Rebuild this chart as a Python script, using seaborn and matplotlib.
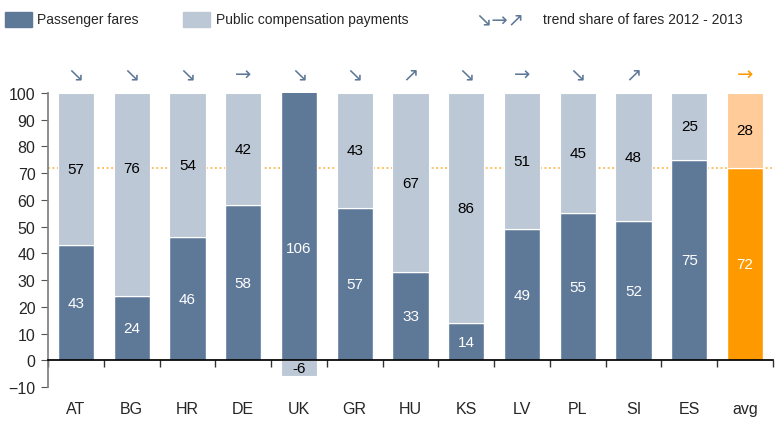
import matplotlib
matplotlib.use("Agg")
import matplotlib.pyplot as plt
import seaborn as sns
import numpy as np
import pandas as pd
from matplotlib.patches import Rectangle

sns.set_theme(style="white")
plt.rcParams['font.family'] = ['Liberation Sans', 'DejaVu Sans']

categories = ["AT", "BG", "HR", "DE", "UK", "GR", "HU", "KS", "LV", "PL", "SI", "ES", "avg"]
fares = [43, 24, 46, 58, 106, 57, 33, 14, 49, 55, 52, 75, 72]
compensation = [57, 76, 54, 42, -6, 43, 67, 86, 51, 45, 48, 25, 28]
trends = ["down", "down", "down", "flat", "down", "down", "up", "down", "flat", "down", "up", "", "flat"]
avg_line = 72

DARK = "#5E7898"
LIGHT = "#BDC8D6"
ORANGE = "#FF9900"
LORANGE = "#FFCC99"
arrow_char = {"down": "\u2198", "flat": "\u2192", "up": "\u2197", "": ""}

n = len(categories)
dark_colors = [DARK] * (n - 1) + [ORANGE]
light_colors = [LIGHT] * (n - 1) + [LORANGE]

df = pd.DataFrame({"cat": categories, "fares": fares, "comp": compensation})
comp_bottom = [f if c >= 0 else 0 for f, c in zip(fares, compensation)]

fig = plt.figure(figsize=(7.83, 4.27), dpi=100)
ax = fig.add_axes([48 / 783, 1 - 388 / 427, (773 - 48) / 783, (388 - 94) / 427])

x = np.arange(n)
w = 0.65
ax.axhline(avg_line, color="#FFB84D", linestyle=(0, (1, 1.5)), lw=1.3, zorder=0)
ax.bar(x, df["fares"], width=w, color=dark_colors, zorder=2)
ax.bar(x, df["comp"], bottom=comp_bottom, width=w, color=light_colors, zorder=2,
       edgecolor="white", linewidth=0.8)

for i in range(n):
    f, c = fares[i], compensation[i]
    fy = f / 2 if f <= 100 else 42
    ax.text(i, fy, str(f), ha="center", va="center", color="white", fontsize=11, zorder=3)
    if c >= 0:
        cy = f + c / 2 if categories[i] != "BG" else 72
    else:
        cy = c / 2
    ax.text(i, cy, str(c), ha="center", va="center", color="black", fontsize=11, zorder=3)
    col = ORANGE if i == n - 1 else DARK
    ax.text(i, 107, arrow_char[trends[i]], ha="center", va="center", color=col,
            fontsize=14, family=["DejaVu Sans"], clip_on=False)

ax.set_xlim(-0.5, n - 0.5)
ax.set_ylim(-10, 100)
ax.set_yticks(np.arange(-10, 101, 10))
ax.tick_params(axis="y", which="major", left=True, length=5, width=0.8, color="#555555",
               labelsize=11.5, pad=4)
ax.spines["top"].set_visible(False)
ax.spines["right"].set_visible(False)
ax.spines["left"].set_color("#808080")
ax.spines["bottom"].set_position(("data", 0))
ax.spines["bottom"].set_color("black")
ax.spines["bottom"].set_zorder(4)
ax.set_xticks(x)
ax.set_xticklabels(categories)
ax.set_xticks(np.arange(-0.5, n, 1), minor=True)
ax.tick_params(axis="x", which="major", bottom=True, length=0, labelsize=11.5, pad=29)
ax.tick_params(axis="x", which="minor", bottom=True, length=5, width=1, color="#333333")
ax.set_xlabel("")
ax.set_ylabel("")
ax.grid(False)

# legend
fig.patches.append(Rectangle((5 / 783, 1 - 28 / 427), 27 / 783, 15 / 427,
                             transform=fig.transFigure, color=DARK))
fig.text(37 / 783, 1 - 20 / 427, "Passenger fares", va="center", fontsize=10)
fig.patches.append(Rectangle((183 / 783, 1 - 28 / 427), 27 / 783, 15 / 427,
                             transform=fig.transFigure, color=LIGHT))
fig.text(216 / 783, 1 - 20 / 427, "Public compensation payments", va="center", fontsize=10)
fig.text(475 / 783, 1 - 20 / 427, "\u2198\u2192\u2197", va="center", fontsize=14,
         color=DARK, family=["DejaVu Sans"])
fig.text(543 / 783, 1 - 20 / 427, "trend share of fares 2012 - 2013", va="center", fontsize=10)

fig.savefig("out.png", dpi=100)
